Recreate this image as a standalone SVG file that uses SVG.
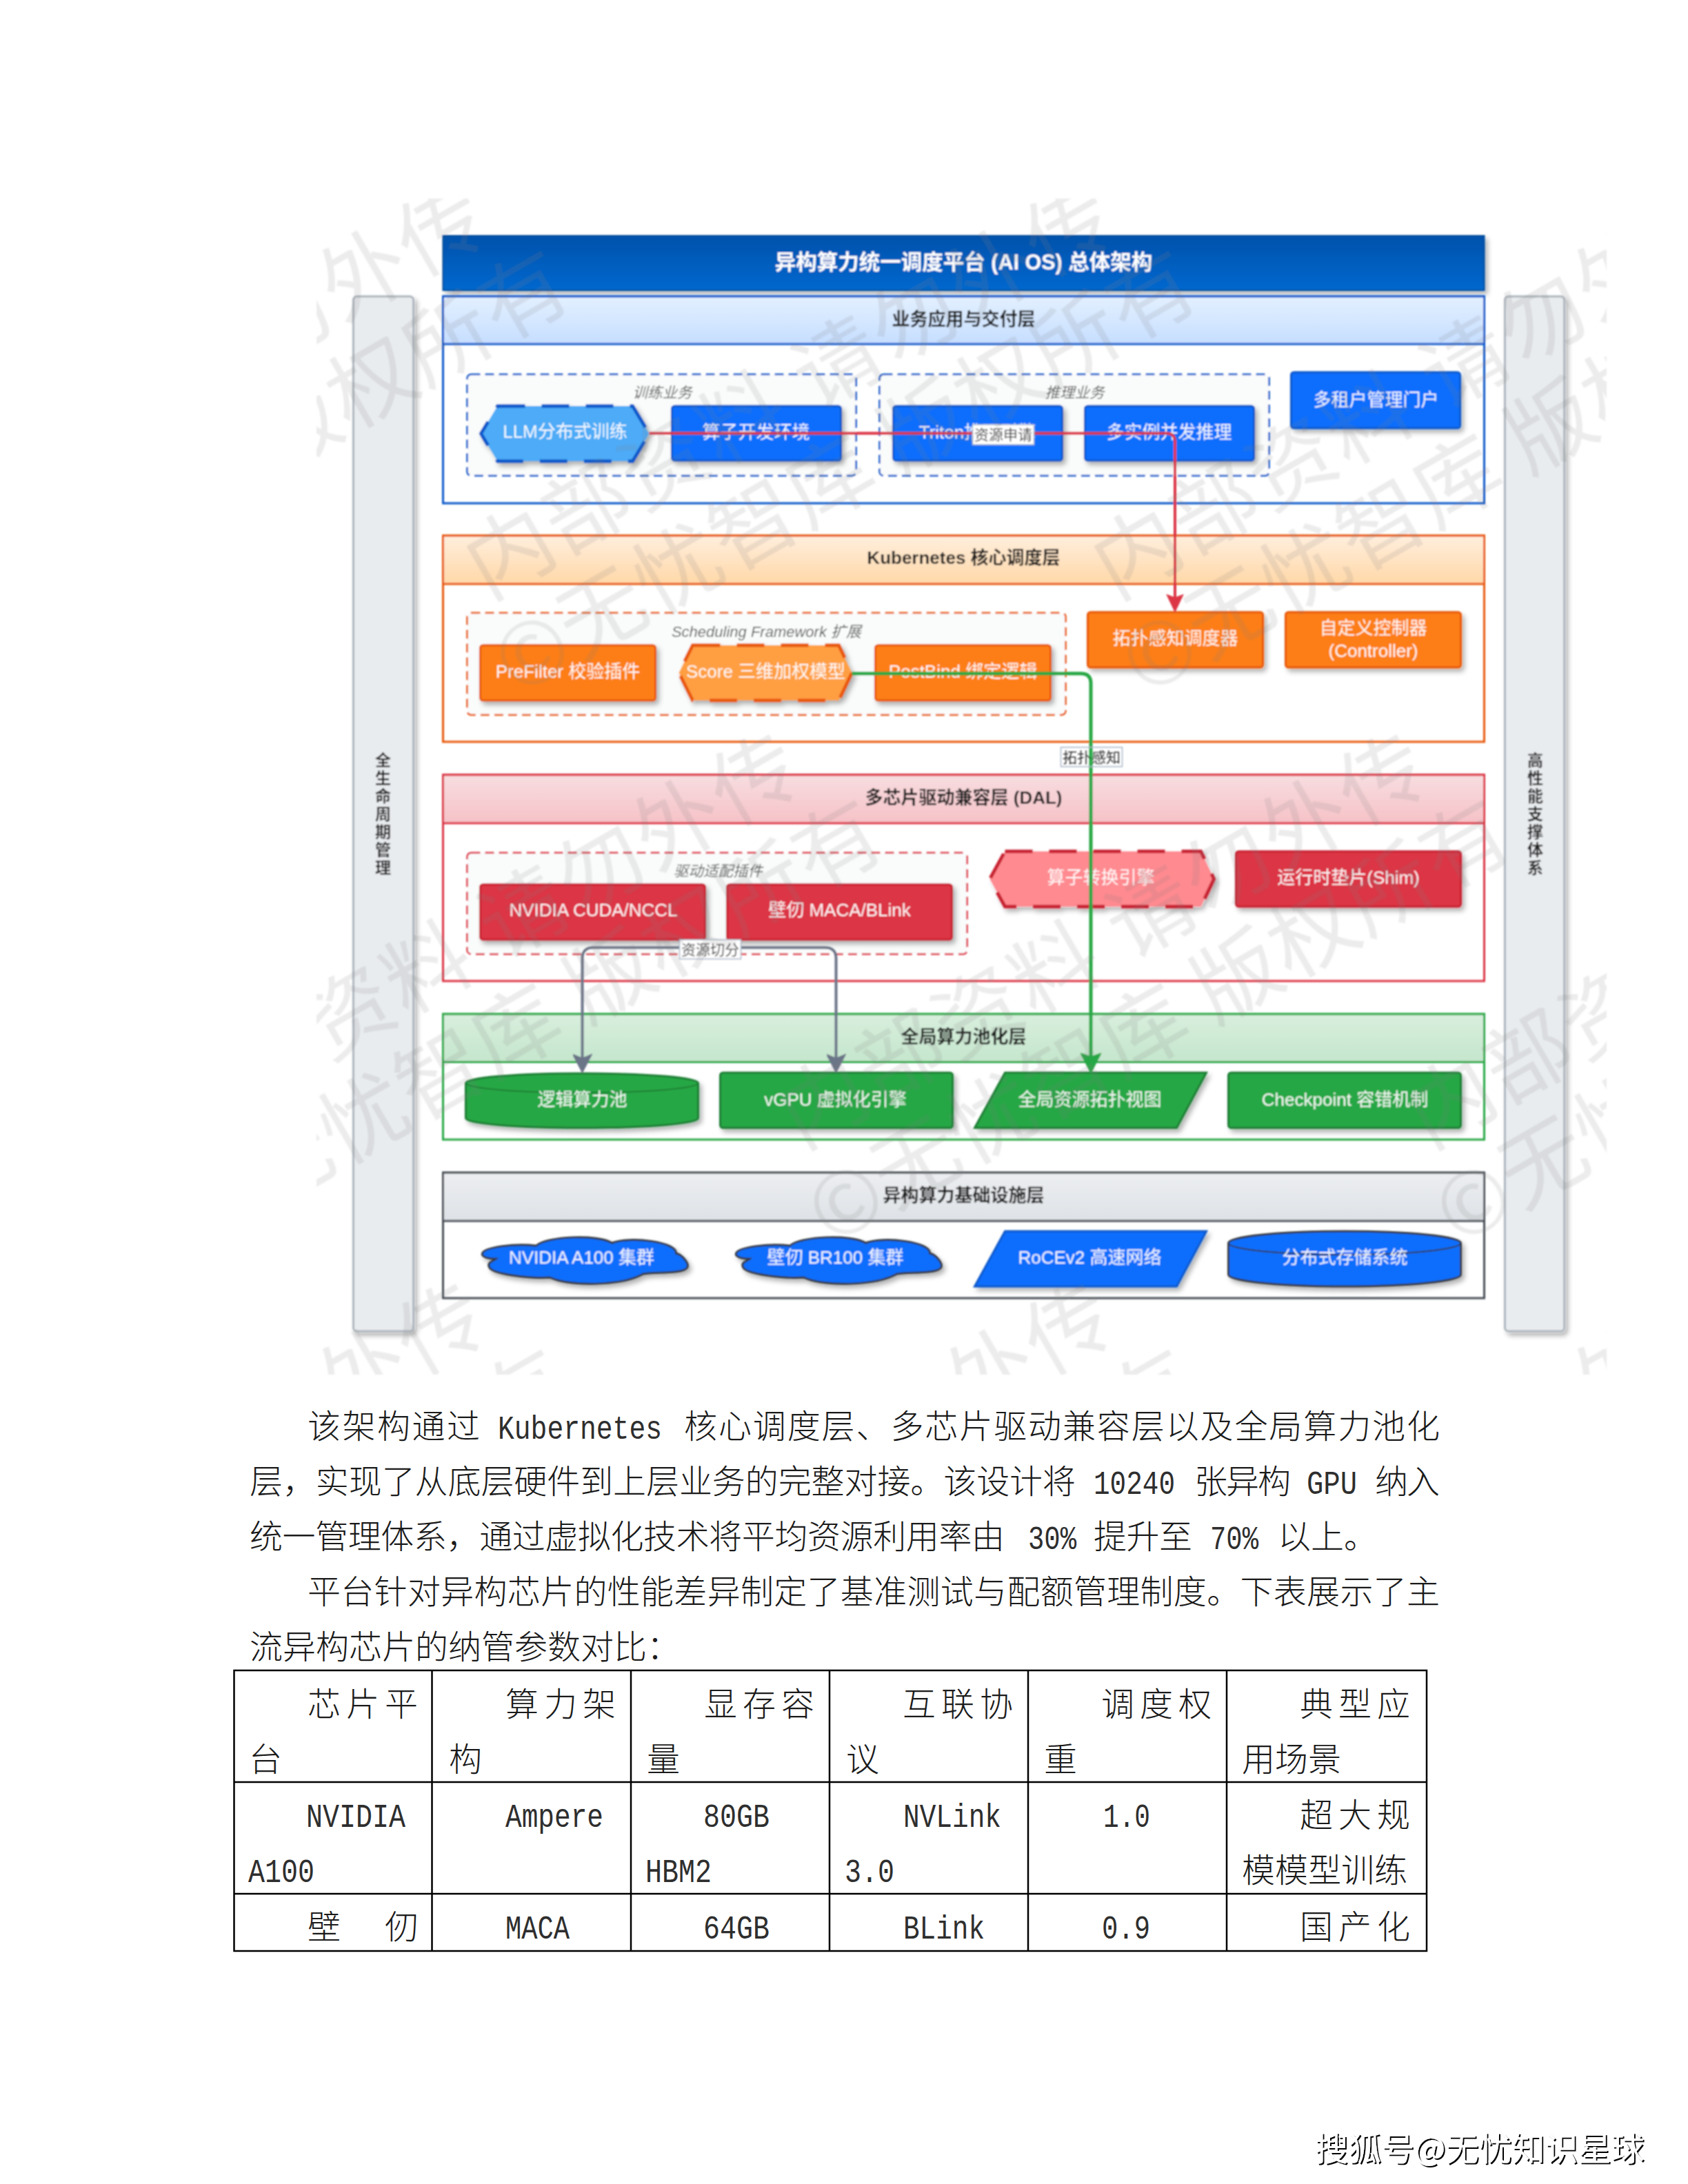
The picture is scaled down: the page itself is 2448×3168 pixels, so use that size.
<svg xmlns="http://www.w3.org/2000/svg" xmlns:xlink="http://www.w3.org/1999/xlink" width="2448" height="3168" viewBox="0 0 2448 3168">
<style>
text{font-family:"Liberation Sans","Noto Sans CJK SC",sans-serif}
.n{font-size:26px;fill:#fff;fill-opacity:.95;text-anchor:middle}
.h{font-size:26px;font-weight:700;fill:#1a1a1a;text-anchor:middle}
.g{font-size:21.500px;font-style:italic;fill:#5f5f5f;text-anchor:middle}
.e{font-size:21px;fill:#333;text-anchor:middle}
.v{font-size:23px;font-weight:700;fill:#222;text-anchor:middle}
.lb{fill:#fff;stroke:#a8b6c8;stroke-width:1.5}
.body{fill:none}
.sd{filter:url(#sh)}
.bl{fill:#0d6efd;stroke:#0a58ca;stroke-width:3}
.or{fill:#fd7e14;stroke:#e8590c;stroke-width:3}
.rd{fill:#dc3545;stroke:#c82333;stroke-width:3}
.gr{fill:#28a745;stroke:#1e7e34;stroke-width:3}
.hx{stroke-width:5;stroke-dasharray:40 24}
.dg{fill:#f8f9fa;fill-opacity:.75;stroke-width:2.5;stroke-dasharray:13 7}
.ln{fill:none;stroke-width:4}
.t,.m{font-size:48px;fill:#1a1a1a}
.t{font-family:"Noto Sans CJK SC",sans-serif;font-weight:300}
.m{font-family:"Liberation Mono",monospace;fill:#2e2e2e}
.wm{font-family:"Noto Sans CJK SC",sans-serif;font-size:125px;fill:#808080;fill-opacity:.15;text-anchor:middle}
.tb{fill:none;stroke:#000;stroke-width:2.5}
.ft{font-family:"Noto Sans CJK SC",sans-serif;font-size:48px;fill:#fff;filter:url(#fts)}
</style>
<defs>
<linearGradient id="gt" x1="0" y1="0" x2="0" y2="1"><stop offset="0" stop-color="#0052ab"/><stop offset="1" stop-color="#0068cf"/></linearGradient>
<linearGradient id="g1" x1="0" y1="0" x2="0" y2="1"><stop offset="0" stop-color="#e3f0ff"/><stop offset="1" stop-color="#c6deff"/></linearGradient>
<linearGradient id="g2" x1="0" y1="0" x2="0" y2="1"><stop offset="0" stop-color="#ffeedd"/><stop offset="1" stop-color="#ffd8a8"/></linearGradient>
<linearGradient id="g3" x1="0" y1="0" x2="0" y2="1"><stop offset="0" stop-color="#f8dde0"/><stop offset="1" stop-color="#f5c2c7"/></linearGradient>
<linearGradient id="g4" x1="0" y1="0" x2="0" y2="1"><stop offset="0" stop-color="#d8eedd"/><stop offset="1" stop-color="#c5e6cd"/></linearGradient>
<linearGradient id="g5" x1="0" y1="0" x2="0" y2="1"><stop offset="0" stop-color="#eceef1"/><stop offset="1" stop-color="#dee2e6"/></linearGradient>
<filter id="sh" x="-10%" y="-20%" width="125%" height="150%"><feDropShadow dx="4" dy="5" stdDeviation="3.5" flood-color="#000" flood-opacity=".3"/></filter>
<filter id="soft" filterUnits="userSpaceOnUse" x="440" y="270" width="1900" height="1740"><feGaussianBlur stdDeviation="0.8"/></filter>
<filter id="fts" x="-5%" y="-20%" width="110%" height="140%"><feDropShadow dx="2" dy="2" stdDeviation="0.2" flood-color="#000"/></filter>
<clipPath id="wc"><rect x="457" y="288" width="1871" height="1706"/></clipPath>
<marker id="ar" markerUnits="userSpaceOnUse" markerWidth="26" markerHeight="26" viewBox="0 0 24 24" refX="18" refY="12" orient="auto"><path d="M1 1 L24 12 L1 23 L5 12 Z" fill="#dc3545" stroke="#dc3545"/></marker>
<marker id="ag" markerUnits="userSpaceOnUse" markerWidth="30" markerHeight="30" viewBox="0 0 24 24" refX="18" refY="12" orient="auto"><path d="M1 0 L24 12 L1 24 L5 12 Z" fill="#28a745" stroke="#28a745"/></marker>
<marker id="ay" markerUnits="userSpaceOnUse" markerWidth="28" markerHeight="28" viewBox="0 0 24 24" refX="18" refY="12" orient="auto"><path d="M1 0 L24 12 L1 24 L6 12 Z" fill="#6b7487" stroke="#6b7487"/></marker>
<g id="wmtile">
<text class="wm" transform="translate(-40,-59) rotate(-30)" textLength="1060" lengthAdjust="spacing">内部资料 请勿外传</text>
<text class="wm" transform="translate(41,59) rotate(-30)" textLength="1150" lengthAdjust="spacing">©无忧智库 版权所有</text>
</g>
</defs>
<rect width="2448" height="3168" fill="#fff"/>
<g id="diagram" filter="url(#soft)" transform="translate(1.500,0)">
<g id="bar-left"><rect class="sd" x="511" y="430" width="87" height="1501" rx="5" fill="#e9ecef" stroke="#adb5bd" stroke-width="3"/>
<text class="v"><tspan x="554" y="1111">全</tspan><tspan x="554" y="1137">生</tspan><tspan x="554" y="1163">命</tspan><tspan x="554" y="1189">周</tspan><tspan x="554" y="1215">期</tspan><tspan x="554" y="1241">管</tspan><tspan x="554" y="1267">理</tspan></text></g>
<g id="bar-right"><rect class="sd" x="2181" y="430" width="86" height="1501" rx="5" fill="#e9ecef" stroke="#adb5bd" stroke-width="3"/>
<text class="v"><tspan x="2225" y="1111">高</tspan><tspan x="2225" y="1137">性</tspan><tspan x="2225" y="1163">能</tspan><tspan x="2225" y="1189">支</tspan><tspan x="2225" y="1215">撑</tspan><tspan x="2225" y="1241">体</tspan><tspan x="2225" y="1267">系</tspan></text></g>
<g id="title"><rect class="sd" x="641" y="342" width="1510" height="79" fill="url(#gt)" stroke="#004a99" stroke-width="2"/>
<text x="1396" y="391" font-size="30.500" font-weight="700" fill="#fff" text-anchor="middle">异构算力统一调度平台 (AI OS) 总体架构</text></g>

<g id="layer-app"><rect class="body" x="641" y="430" width="1510" height="300" stroke="#0a58ca" stroke-width="3"/><rect x="641" y="430" width="1510" height="69" fill="url(#g1)" stroke="#0a58ca" stroke-width="3"/><text class="h" x="1396" y="472">业务应用与交付层</text></g>
<g id="group-train"><rect class="dg" x="676" y="543" width="564" height="147" rx="6" stroke="#0a58ca"/><text class="g" x="959" y="577">训练业务</text></g>
<g id="group-infer"><rect class="dg" x="1274" y="543" width="565" height="147" rx="6" stroke="#0a58ca"/><text class="g" x="1557" y="577">推理业务</text></g>
<g id="n-llm"><path class="sd hx" d="M720 589H916L940 629L916 669H720L696 629Z" fill="#4dabf7" stroke="#0a58ca"/><text class="n" x="818" y="635">LLM分布式训练</text></g>
<g id="n-dev"><rect class="sd bl" x="973" y="589" width="245" height="79" rx="4"/><text class="n" x="1095" y="636">算子开发环境</text></g>
<g id="n-triton"><rect class="sd bl" x="1294" y="589" width="245" height="79" rx="4"/><text class="n" x="1416" y="636">Triton推理引擎</text></g>
<g id="n-multi"><rect class="sd bl" x="1572" y="589" width="245" height="79" rx="4"/><text class="n" x="1694" y="636">多实例并发推理</text></g>
<g id="n-portal"><rect class="sd bl" x="1871" y="540" width="245" height="81" rx="4"/><text class="n" x="1994" y="589">多租户管理门户</text></g>

<g id="layer-k8s"><rect class="body" x="641" y="777" width="1510" height="299" stroke="#e8590c" stroke-width="3"/><rect x="641" y="777" width="1510" height="70" fill="url(#g2)" stroke="#e8590c" stroke-width="3"/><text class="h" x="1396" y="818">Kubernetes 核心调度层</text></g>
<g id="group-sched"><rect class="dg" x="676" y="889" width="868" height="148" rx="6" stroke="#e8590c"/><text class="g" x="1110" y="924" style="font-size:22px">Scheduling Framework 扩展</text></g>
<g id="n-prefilter"><rect class="sd or" x="695" y="936" width="254" height="80" rx="4"/><text class="n" x="822" y="983">PreFilter 校验插件</text></g>
<g id="n-score"><path class="sd hx" d="M1003 936H1215L1234 976L1215 1016H1003L983 976Z" fill="#ff9f43" stroke="#e8590c"/><text class="n" x="1109" y="983">Score 三维加权模型</text></g>
<g id="n-postbind"><rect class="sd or" x="1268" y="936" width="254" height="80" rx="4"/><text class="n" x="1395" y="983">PostBind 绑定逻辑</text></g>
<g id="n-topo"><rect class="sd or" x="1576" y="888" width="254" height="80" rx="4"/><text class="n" x="1703" y="935">拓扑感知调度器</text></g>
<g id="n-ctrl"><rect class="sd or" x="1863" y="888" width="254" height="80" rx="4"/><text class="n" x="1990" y="920">自定义控制器</text><text class="n" x="1990" y="953">(Controller)</text></g>

<g id="layer-dal"><rect class="body" x="641" y="1124" width="1510" height="299" stroke="#dc3545" stroke-width="3"/><rect x="641" y="1124" width="1510" height="70" fill="url(#g3)" stroke="#dc3545" stroke-width="3"/><text class="h" x="1396" y="1166">多芯片驱动兼容层 (DAL)</text></g>
<g id="group-driver"><rect class="dg" x="676" y="1237" width="725" height="147" rx="6" stroke="#dc3545"/><text class="g" x="1040" y="1271">驱动适配插件</text></g>
<g id="n-cuda"><rect class="sd rd" x="695" y="1283" width="326" height="80" rx="4"/><text class="n" x="859" y="1329">NVIDIA CUDA/NCCL</text></g>
<g id="n-maca"><rect class="sd rd" x="1053" y="1283" width="326" height="80" rx="4"/><text class="n" x="1216" y="1329">壁仞 MACA/BLink</text></g>
<g id="n-conv"><path class="sd hx" d="M1456 1235H1740L1759 1275L1740 1315H1456L1434 1275Z" fill="#ff8a90" stroke="#c82333"/><text class="n" x="1595" y="1282">算子转换引擎</text></g>
<g id="n-shim"><rect class="sd rd" x="1791" y="1235" width="326" height="80" rx="4"/><text class="n" x="1954" y="1282">运行时垫片(Shim)</text></g>

<g id="layer-pool"><rect class="body" x="641" y="1471" width="1510" height="182" stroke="#28a745" stroke-width="3"/><rect x="641" y="1471" width="1510" height="69.500" fill="url(#g4)" stroke="#28a745" stroke-width="3"/><text class="h" x="1396" y="1513">全局算力池化层</text></g>
<g id="n-pool"><path class="sd gr" d="M674 1571A168 14 0 0 1 1011 1571V1622A168 14 0 0 1 674 1622Z"/><path d="M674 1571A168 14 0 0 0 1011 1571" fill="none" stroke="#1e7e34" stroke-width="2"/><text class="n" x="843" y="1604">逻辑算力池</text></g>
<g id="n-vgpu"><rect class="sd gr" x="1043" y="1556" width="337" height="80" rx="4"/><text class="n" x="1210" y="1604">vGPU 虚拟化引擎</text></g>
<g id="n-view"><path class="sd gr" d="M1456 1556H1748L1705 1636H1412Z"/><text class="n" x="1579" y="1604">全局资源拓扑视图</text></g>
<g id="n-ckpt"><rect class="sd gr" x="1780" y="1556" width="337" height="80" rx="4"/><text class="n" x="1949" y="1604">Checkpoint 容错机制</text></g>

<g id="layer-infra"><rect class="body" x="641" y="1701" width="1510" height="182" stroke="#495057" stroke-width="3"/><rect x="641" y="1701" width="1510" height="70" fill="url(#g5)" stroke="#495057" stroke-width="3"/><text class="h" x="1396" y="1743">异构算力基础设施层</text></g>
<g id="n-a100"><path class="sd bl" transform="translate(696,1793)" d="M2 25C5 16 50 10 80 14C95 0 170-3 190 10C215 0 285 8 283 25C292 27 305 42 298 47C290 55 250 52 235 55C205 72 130 74 100 60C70 62 15 55 12 45C8 38 20 35 22 33C10 33 0 30 2 25Z" style="stroke:#343a40"/><text class="n" x="842" y="1833">NVIDIA A100 集群</text></g>
<g id="n-br100"><path class="sd bl" transform="translate(1064,1793)" d="M2 25C5 16 50 10 80 14C95 0 170-3 190 10C215 0 285 8 283 25C292 27 305 42 298 47C290 55 250 52 235 55C205 72 130 74 100 60C70 62 15 55 12 45C8 38 20 35 22 33C10 33 0 30 2 25Z" style="stroke:#343a40"/><text class="n" x="1210" y="1833">壁仞 BR100 集群</text></g>
<g id="n-roce"><path class="sd bl" d="M1456 1786H1748L1705 1866H1412Z" style="stroke:#0a58ca"/><text class="n" x="1579" y="1833">RoCEv2 高速网络</text></g>
<g id="n-storage"><path class="sd bl" d="M1780 1803A168 17 0 0 1 2117 1803V1849A168 17 0 0 1 1780 1849Z" style="stroke:#343a40"/><path d="M1780 1803A168 17 0 0 0 2117 1803" fill="none" stroke="#343a40" stroke-width="2"/><text class="n" x="1949" y="1833">分布式存储系统</text></g>

<g id="connectors">
<path class="ln" d="M940 628.500H1690Q1702.500 628.500 1702.500 641V881" stroke="#dc3545" marker-end="url(#ar)"/>
<path class="ln" d="M1234 977H1566Q1580.500 977 1580.500 991V1549" stroke="#28a745" style="stroke-width:5" marker-end="url(#ag)"/>
<path class="ln" d="M1028 1374.500H859Q843 1374.500 843 1390V1549" stroke="#6b7487" marker-end="url(#ay)"/>
<path class="ln" d="M1028 1374.500H1195Q1211 1374.500 1211 1390V1549" stroke="#6b7487" marker-end="url(#ay)"/>
<rect class="lb" x="1409" y="616" width="89" height="29"/><text class="e" x="1453.500" y="638">资源申请</text>
<rect class="lb" x="984" y="1363" width="89" height="28"/><text class="e" x="1028.500" y="1385">资源切分</text>
<rect class="lb" x="1537" y="1084" width="89" height="28" fill-opacity="0"/><text class="e" x="1581.500" y="1106">拓扑感知</text>
</g>
<g id="watermark" clip-path="url(#wc)">
<g transform="translate(40,35)">
<use xlink:href="#wmtile" x="255" y="630"/><use xlink:href="#wmtile" x="1165" y="630"/><use xlink:href="#wmtile" x="2075" y="630"/>
<use xlink:href="#wmtile" x="-200" y="1427"/><use xlink:href="#wmtile" x="710" y="1427"/><use xlink:href="#wmtile" x="1620" y="1427"/><use xlink:href="#wmtile" x="2530" y="1427"/>
<use xlink:href="#wmtile" x="255" y="2224"/><use xlink:href="#wmtile" x="1165" y="2224"/><use xlink:href="#wmtile" x="2075" y="2224"/>
</g>
</g>
</g>

<g id="prose">
<text class="t" x="446" y="2086" textLength="250">该架构通过</text><text class="m" x="722" y="2087" textLength="238" lengthAdjust="spacingAndGlyphs">Kubernetes</text><text class="t" x="992" y="2086" textLength="1096">核心调度层、多芯片驱动兼容层以及全局算力池化</text>
<text class="t" x="362" y="2166" textLength="1198">层，实现了从底层硬件到上层业务的完整对接。该设计将</text><text class="m" x="1586" y="2167" textLength="118" lengthAdjust="spacingAndGlyphs">10240</text><text class="t" x="1732" y="2166" textLength="140">张异构</text><text class="m" x="1895" y="2167" textLength="73" lengthAdjust="spacingAndGlyphs">GPU</text><text class="t" x="1994" y="2166" textLength="94">纳入</text>
<text class="t" x="362" y="2246" textLength="1095">统一管理体系，通过虚拟化技术将平均资源利用率由</text><text class="m" x="1491" y="2247" textLength="70" lengthAdjust="spacingAndGlyphs">30%</text><text class="t" x="1586" y="2246" textLength="143">提升至</text><text class="m" x="1755" y="2247" textLength="70" lengthAdjust="spacingAndGlyphs">70%</text><text class="t" x="1853" y="2246" textLength="144">以上。</text>
<text class="t" x="446" y="2326" textLength="1642">平台针对异构芯片的性能差异制定了基准测试与配额管理制度。下表展示了主</text>
<text class="t" x="362" y="2406">流异构芯片的纳管参数对比：</text>
</g>
<g id="table">
<path class="tb" d="M339.500 2423H2069V2830H339.500ZM339.500 2585H2069M339.500 2747H2069M626.500 2423V2830M915 2423V2830M1203 2423V2830M1491 2423V2830M1779 2423V2830"/>
<text class="t" x="446" y="2489" textLength="160">芯片平</text><text class="t" x="733" y="2489" textLength="160">算力架</text><text class="t" x="1021" y="2489" textLength="160">显存容</text><text class="t" x="1309" y="2489" textLength="160">互联协</text><text class="t" x="1597" y="2489" textLength="160">调度权</text><text class="t" x="1885" y="2489" textLength="160">典型应</text>
<text class="t" x="361" y="2569">台</text><text class="t" x="651" y="2569">构</text><text class="t" x="938" y="2569">量</text><text class="t" x="1227" y="2569">议</text><text class="t" x="1514" y="2569">重</text><text class="t" x="1801" y="2569">用场景</text>
<text class="m" x="444" y="2650" textLength="144" lengthAdjust="spacingAndGlyphs">NVIDIA</text><text class="m" x="733" y="2650" textLength="142" lengthAdjust="spacingAndGlyphs">Ampere</text><text class="m" x="1020" y="2650" textLength="96" lengthAdjust="spacingAndGlyphs">80GB</text><text class="m" x="1310" y="2650" textLength="142" lengthAdjust="spacingAndGlyphs">NVLink</text><text class="m" x="1600" y="2650" textLength="68" lengthAdjust="spacingAndGlyphs">1.0</text><text class="t" x="1885" y="2650" textLength="160">超大规</text>
<text class="m" x="360" y="2730" textLength="96" lengthAdjust="spacingAndGlyphs">A100</text><text class="m" x="936" y="2730" textLength="96" lengthAdjust="spacingAndGlyphs">HBM2</text><text class="m" x="1225" y="2730" textLength="72" lengthAdjust="spacingAndGlyphs">3.0</text><text class="t" x="1801" y="2730" textLength="240">模模型训练</text>
<text class="t" x="446" y="2812">壁</text><text class="t" x="558" y="2812">仞</text><text class="m" x="733" y="2812" textLength="93" lengthAdjust="spacingAndGlyphs">MACA</text><text class="m" x="1020" y="2812" textLength="96" lengthAdjust="spacingAndGlyphs">64GB</text><text class="m" x="1310" y="2812" textLength="118" lengthAdjust="spacingAndGlyphs">BLink</text><text class="m" x="1598" y="2812" textLength="70" lengthAdjust="spacingAndGlyphs">0.9</text><text class="t" x="1885" y="2812" textLength="160">国产化</text>
</g>
<g id="footer"><text class="ft" x="1907" y="3134">搜狐号@无忧知识星球</text></g>
</svg>
